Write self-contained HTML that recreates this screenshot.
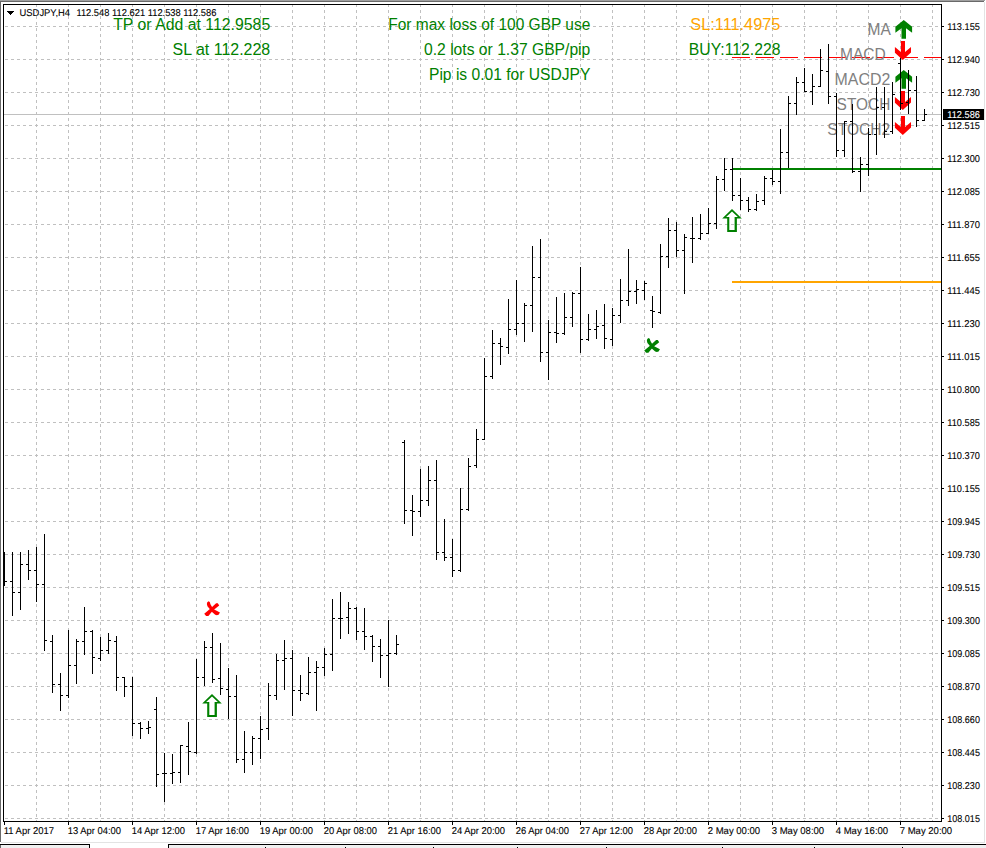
<!DOCTYPE html>
<html><head><meta charset="utf-8"><title>USDJPY,H4</title>
<style>
html,body{margin:0;padding:0;background:#fff;}
body{width:986px;height:848px;overflow:hidden;}
svg{display:block;}
text{font-family:"Liberation Sans",sans-serif;}
.s{font-size:9.9px;fill:#000;stroke:#000;stroke-width:0.1px;text-rendering:geometricPrecision;}
.b{font-size:16px;}
</style></head><body>
<svg width="986" height="848" viewBox="0 0 986 848">
<rect x="0" y="0" width="986" height="848" fill="#ffffff"/>
<g shape-rendering="crispEdges">
<rect x="0" y="0" width="985" height="1" fill="#a0a0a0"/>
<rect x="0" y="1" width="984" height="1" fill="#696969"/>
<rect x="0" y="1" width="1" height="841" fill="#696969"/>
<rect x="984" y="2" width="1" height="841" fill="#e3e3e3"/>
<rect x="1" y="842" width="984" height="1" fill="#e3e3e3"/>
<rect x="0" y="845" width="89" height="3" fill="#f0f0f0"/>
<rect x="169" y="845" width="817" height="3" fill="#f0f0f0"/>
<rect x="0" y="845" width="1" height="3" fill="#696969"/>
<rect x="0" y="844" width="90" height="1" fill="#000"/>
<rect x="168" y="844" width="818" height="1" fill="#000"/>
<rect x="89" y="844" width="1" height="4" fill="#000"/>
<rect x="168" y="844" width="1" height="4" fill="#000"/>
<rect x="265" y="847" width="1" height="1" fill="#000"/>
<rect x="345" y="847" width="1" height="1" fill="#000"/>
<rect x="433" y="847" width="1" height="1" fill="#000"/>
<rect x="517" y="847" width="1" height="1" fill="#000"/>
<rect x="606" y="847" width="1" height="1" fill="#000"/>
<rect x="722" y="847" width="1" height="1" fill="#000"/>
<rect x="814" y="847" width="1" height="1" fill="#000"/>
<rect x="902" y="847" width="1" height="1" fill="#000"/>
</g>
<g shape-rendering="crispEdges" stroke="#c0c0c0" stroke-width="1" stroke-dasharray="3 3" fill="none">
<path d="M36.5 4V821M68.5 4V821M100.5 4V821M132.5 4V821M164.5 4V821M196.5 4V821M228.5 4V821M260.5 4V821M292.5 4V821M324.5 4V821M356.5 4V821M388.5 4V821M420.5 4V821M452.5 4V821M484.5 4V821M516.5 4V821M548.5 4V821M580.5 4V821M612.5 4V821M644.5 4V821M676.5 4V821M708.5 4V821M740.5 4V821M772.5 4V821M804.5 4V821M836.5 4V821M868.5 4V821M900.5 4V821M932.5 4V821M5 26.5H941M5 59.5H941M5 92.5H941M5 125.5H941M5 158.5H941M5 191.5H941M5 224.5H941M5 257.5H941M5 290.5H941M5 323.5H941M5 356.5H941M5 389.5H941M5 422.5H941M5 455.5H941M5 488.5H941M5 521.5H941M5 554.5H941M5 587.5H941M5 620.5H941M5 653.5H941M5 686.5H941M5 719.5H941M5 752.5H941M5 785.5H941M5 818.5H941"/>
</g>
<rect x="4" y="114" width="937" height="1" fill="#c0c0c0" shape-rendering="crispEdges"/>
<g shape-rendering="crispEdges">
<rect x="732" y="168" width="209" height="2" fill="#008000"/>
<rect x="732" y="281" width="209" height="2" fill="#ffa500"/>
<path fill="#ff0000" d="M732 57h18v1h-18zM756 57h18v1h-18zM780 57h18v1h-18zM804 57h18v1h-18zM828 57h18v1h-18zM852 57h18v1h-18zM876 57h18v1h-18zM900 57h18v1h-18zM924 57h17v1h-17z"/>
</g>
<text x="270.2" y="30" class="b" fill="#008000" text-anchor="end" textLength="157" lengthAdjust="spacingAndGlyphs">TP or Add at 112.9585</text>
<text x="270.2" y="55" class="b" fill="#008000" text-anchor="end" textLength="97.6" lengthAdjust="spacingAndGlyphs">SL at 112.228</text>
<text x="590.3" y="30" class="b" fill="#008000" text-anchor="end" textLength="202" lengthAdjust="spacingAndGlyphs">For max loss of 100 GBP use</text>
<text x="590.3" y="55" class="b" fill="#008000" text-anchor="end" textLength="166.3" lengthAdjust="spacingAndGlyphs">0.2 lots or 1.37 GBP/pip</text>
<text x="590.3" y="80" class="b" fill="#008000" text-anchor="end" textLength="161.3" lengthAdjust="spacingAndGlyphs">Pip is 0.01 for USDJPY</text>
<text x="780.4" y="30" class="b" fill="#ffa500" text-anchor="end" textLength="90.1" lengthAdjust="spacingAndGlyphs">SL:111.4975</text>
<text x="780.4" y="55" class="b" fill="#008000" text-anchor="end" textLength="91.6" lengthAdjust="spacingAndGlyphs">BUY:112.228</text>
<text x="890.8" y="35" class="b" fill="#808080" text-anchor="end" textLength="23.3" lengthAdjust="spacingAndGlyphs">MA</text>
<text x="885.8" y="60" class="b" fill="#808080" text-anchor="end" textLength="45.8" lengthAdjust="spacingAndGlyphs">MACD</text>
<text x="890.3" y="85" class="b" fill="#808080" text-anchor="end" textLength="55.7" lengthAdjust="spacingAndGlyphs">MACD2</text>
<text x="890.3" y="110" class="b" fill="#808080" text-anchor="end" textLength="53.7" lengthAdjust="spacingAndGlyphs">STOCH</text>
<text x="890.3" y="135" class="b" fill="#808080" text-anchor="end" textLength="63" lengthAdjust="spacingAndGlyphs">STOCH2</text>
<polygon fill="#008000" points="903.75,19.90 912.10,26.80 912.10,32.80 906.00,28.20 906.00,38.80 901.50,38.80 901.50,28.20 895.40,32.80 895.40,26.80"/>
<polygon fill="#ff0000" points="900.90,40.90 905.00,40.90 905.00,51.90 911.00,47.00 911.00,52.50 902.80,59.90 894.90,52.70 894.90,47.00 900.90,52.00"/>
<polygon fill="#008000" points="903.75,69.90 912.10,76.80 912.10,82.80 906.00,78.20 906.00,88.80 901.50,88.80 901.50,78.20 895.40,82.80 895.40,76.80"/>
<polygon fill="#ff0000" points="900.90,90.90 905.00,90.90 905.00,101.90 911.00,97.00 911.00,102.50 902.80,109.90 894.90,102.70 894.90,97.00 900.90,102.00"/>
<polygon fill="#ff0000" points="900.90,115.90 905.00,115.90 905.00,126.90 911.00,122.00 911.00,127.50 902.80,134.90 894.90,127.70 894.90,122.00 900.90,127.00"/>
<path fill="#008000" fill-rule="evenodd" d="M732.00 208.90 L741.80 218.50 L736.90 218.50 L736.90 231.90 L727.20 231.90 L727.20 218.50 L722.20 218.50Z M732.00 211.40 L737.90 217.00 L734.60 217.00 L734.60 230.10 L729.30 230.10 L729.30 217.00 L726.10 217.00Z"/>
<path fill="#008000" fill-rule="evenodd" d="M212.00 693.90 L221.80 703.50 L216.90 703.50 L216.90 716.90 L207.20 716.90 L207.20 703.50 L202.20 703.50Z M212.00 696.40 L217.90 702.00 L214.60 702.00 L214.60 715.10 L209.30 715.10 L209.30 702.00 L206.10 702.00Z"/>
<polygon fill="#008000" points="648.57,338.04 649.77,338.72 650.45,341.06 651.89,343.51 654.23,346.34 659.96,349.36 658.57,351.43 656.87,351.89 655.17,351.43 652.34,348.98 649.32,345.21 647.43,342.94 646.87,340.68 647.25,338.98"/>
<polygon fill="#008000" points="656.11,340.11 657.81,340.11 659.21,342.19 653.85,346.53 650.83,349.74 648.38,352.75 646.11,352.75 644.23,350.49 649.32,346.34"/>
<polygon fill="#ff0000" points="208.57,601.29 209.77,601.97 210.45,604.31 211.89,606.76 214.23,609.59 219.96,612.61 218.57,614.68 216.87,615.14 215.17,614.68 212.34,612.23 209.32,608.46 207.43,606.19 206.87,603.93 207.25,602.23"/>
<polygon fill="#ff0000" points="216.11,603.36 217.81,603.36 219.21,605.44 213.85,609.78 210.83,612.99 208.38,616.00 206.11,616.00 204.23,613.74 209.32,609.59"/>
<path shape-rendering="crispEdges" fill="#000" d="M4 552h1v34h-1zM5 581h2v1h-2zM12 552h1v64h-1zM10 581h2v1h-2zM13 592h2v1h-2zM20 552h1v58h-1zM18 592h2v1h-2zM21 564h2v1h-2zM28 550h1v30h-1zM26 564h2v1h-2zM29 570h2v1h-2zM36 547h1v55h-1zM34 570h2v1h-2zM37 584h2v1h-2zM44 534h1v117h-1zM42 584h2v1h-2zM45 640h2v1h-2zM52 635h1v58h-1zM50 641h2v1h-2zM53 684h2v1h-2zM60 673h1v38h-1zM58 684h2v1h-2zM61 695h2v1h-2zM68 630h1v68h-1zM66 695h2v1h-2zM69 665h2v1h-2zM76 639h1v45h-1zM74 665h2v1h-2zM77 641h2v1h-2zM84 607h1v48h-1zM82 641h2v1h-2zM85 631h2v1h-2zM92 630h1v44h-1zM90 631h2v1h-2zM93 657h2v1h-2zM100 637h1v24h-1zM98 658h2v1h-2zM101 650h2v1h-2zM108 633h1v21h-1zM106 650h2v1h-2zM109 640h2v1h-2zM116 636h1v55h-1zM114 641h2v1h-2zM117 677h2v1h-2zM124 677h1v20h-1zM122 677h2v1h-2zM125 686h2v1h-2zM132 677h1v59h-1zM130 686h2v1h-2zM133 723h2v1h-2zM140 722h1v17h-1zM138 723h2v1h-2zM141 728h2v1h-2zM148 721h1v13h-1zM146 728h2v1h-2zM149 727h2v1h-2zM156 697h1v90h-1zM154 709h2v1h-2zM157 774h2v1h-2zM164 753h1v49h-1zM162 773h2v1h-2zM165 773h2v1h-2zM172 754h1v30h-1zM170 773h2v1h-2zM173 772h2v1h-2zM180 745h1v38h-1zM178 772h2v1h-2zM181 745h2v1h-2zM188 722h1v53h-1zM186 746h2v1h-2zM189 751h2v1h-2zM196 659h1v95h-1zM194 752h2v1h-2zM197 677h2v1h-2zM204 641h1v45h-1zM202 677h2v1h-2zM205 647h2v1h-2zM212 633h1v50h-1zM210 647h2v1h-2zM213 679h2v1h-2zM220 643h1v52h-1zM218 678h2v1h-2zM221 688h2v1h-2zM228 668h1v51h-1zM226 689h2v1h-2zM229 696h2v1h-2zM236 675h1v88h-1zM234 696h2v1h-2zM237 759h2v1h-2zM244 731h1v42h-1zM242 759h2v1h-2zM245 752h2v1h-2zM252 736h1v29h-1zM250 752h2v1h-2zM253 738h2v1h-2zM260 716h1v43h-1zM258 738h2v1h-2zM261 729h2v1h-2zM268 683h1v57h-1zM266 728h2v1h-2zM269 695h2v1h-2zM276 654h1v46h-1zM274 695h2v1h-2zM277 660h2v1h-2zM284 640h1v50h-1zM282 660h2v1h-2zM285 658h2v1h-2zM292 650h1v66h-1zM290 658h2v1h-2zM293 690h2v1h-2zM300 675h1v26h-1zM298 690h2v1h-2zM301 693h2v1h-2zM308 657h1v38h-1zM306 693h2v1h-2zM309 672h2v1h-2zM316 661h1v50h-1zM314 672h2v1h-2zM317 667h2v1h-2zM324 648h1v28h-1zM322 667h2v1h-2zM325 654h2v1h-2zM332 599h1v72h-1zM330 654h2v1h-2zM333 618h2v1h-2zM340 592h1v47h-1zM338 618h2v1h-2zM341 618h2v1h-2zM348 602h1v32h-1zM346 617h2v1h-2zM349 608h2v1h-2zM356 607h1v33h-1zM354 608h2v1h-2zM357 631h2v1h-2zM364 608h1v42h-1zM362 631h2v1h-2zM365 636h2v1h-2zM372 635h1v27h-1zM370 636h2v1h-2zM373 646h2v1h-2zM380 639h1v39h-1zM378 646h2v1h-2zM381 655h2v1h-2zM388 620h1v67h-1zM386 655h2v1h-2zM389 653h2v1h-2zM396 635h1v20h-1zM394 653h2v1h-2zM397 644h2v1h-2zM404 440h1v84h-1zM402 442h2v1h-2zM405 510h2v1h-2zM412 495h1v41h-1zM410 510h2v1h-2zM413 511h2v1h-2zM420 469h1v48h-1zM418 511h2v1h-2zM421 500h2v1h-2zM428 466h1v40h-1zM426 500h2v1h-2zM429 480h2v1h-2zM436 460h1v100h-1zM434 480h2v1h-2zM437 552h2v1h-2zM444 519h1v42h-1zM442 552h2v1h-2zM445 557h2v1h-2zM452 539h1v38h-1zM450 557h2v1h-2zM453 570h2v1h-2zM460 488h1v84h-1zM458 570h2v1h-2zM461 509h2v1h-2zM468 458h1v53h-1zM466 509h2v1h-2zM469 466h2v1h-2zM476 429h1v39h-1zM474 465h2v1h-2zM477 439h2v1h-2zM484 358h1v82h-1zM482 439h2v1h-2zM485 376h2v1h-2zM492 330h1v49h-1zM490 376h2v1h-2zM493 343h2v1h-2zM500 338h1v27h-1zM498 343h2v1h-2zM501 346h2v1h-2zM508 299h1v55h-1zM506 347h2v1h-2zM509 329h2v1h-2zM516 280h1v55h-1zM514 329h2v1h-2zM517 323h2v1h-2zM524 303h1v39h-1zM522 323h2v1h-2zM525 305h2v1h-2zM532 246h1v86h-1zM530 305h2v1h-2zM533 277h2v1h-2zM540 239h1v123h-1zM538 277h2v1h-2zM541 352h2v1h-2zM548 320h1v60h-1zM546 352h2v1h-2zM549 332h2v1h-2zM556 297h1v46h-1zM554 332h2v1h-2zM557 333h2v1h-2zM564 293h1v42h-1zM562 333h2v1h-2zM565 317h2v1h-2zM572 292h1v35h-1zM570 317h2v1h-2zM573 293h2v1h-2zM580 267h1v86h-1zM578 293h2v1h-2zM581 339h2v1h-2zM588 314h1v27h-1zM586 339h2v1h-2zM589 329h2v1h-2zM596 310h1v29h-1zM594 329h2v1h-2zM597 326h2v1h-2zM604 304h1v45h-1zM602 325h2v1h-2zM605 338h2v1h-2zM612 308h1v38h-1zM610 339h2v1h-2zM613 315h2v1h-2zM620 279h1v44h-1zM618 315h2v1h-2zM621 300h2v1h-2zM628 249h1v57h-1zM626 300h2v1h-2zM629 291h2v1h-2zM636 280h1v24h-1zM634 291h2v1h-2zM637 289h2v1h-2zM644 281h1v19h-1zM642 290h2v1h-2zM645 283h2v1h-2zM652 296h1v32h-1zM650 310h2v1h-2zM653 311h2v1h-2zM660 244h1v70h-1zM658 312h2v1h-2zM661 256h2v1h-2zM668 218h1v50h-1zM666 256h2v1h-2zM669 230h2v1h-2zM676 222h1v35h-1zM674 230h2v1h-2zM677 250h2v1h-2zM684 234h1v60h-1zM682 250h2v1h-2zM685 237h2v1h-2zM692 217h1v46h-1zM690 238h2v1h-2zM693 238h2v1h-2zM700 214h1v26h-1zM698 238h2v1h-2zM701 233h2v1h-2zM708 208h1v26h-1zM706 233h2v1h-2zM709 223h2v1h-2zM716 176h1v53h-1zM714 223h2v1h-2zM717 179h2v1h-2zM724 158h1v33h-1zM722 179h2v1h-2zM725 169h2v1h-2zM732 158h1v43h-1zM730 169h2v1h-2zM733 195h2v1h-2zM740 178h1v32h-1zM738 195h2v1h-2zM741 200h2v1h-2zM748 197h1v15h-1zM746 200h2v1h-2zM749 209h2v1h-2zM756 194h1v17h-1zM754 209h2v1h-2zM757 201h2v1h-2zM764 176h1v29h-1zM762 200h2v1h-2zM765 178h2v1h-2zM772 170h1v15h-1zM770 178h2v1h-2zM773 181h2v1h-2zM780 129h1v65h-1zM778 181h2v1h-2zM781 152h2v1h-2zM788 96h1v72h-1zM786 152h2v1h-2zM789 103h2v1h-2zM796 77h1v38h-1zM794 103h2v1h-2zM797 82h2v1h-2zM804 68h1v24h-1zM802 82h2v1h-2zM805 91h2v1h-2zM812 74h1v31h-1zM810 91h2v1h-2zM813 86h2v1h-2zM820 49h1v38h-1zM818 86h2v1h-2zM821 70h2v1h-2zM828 44h1v60h-1zM826 71h2v1h-2zM829 96h2v1h-2zM836 93h1v64h-1zM834 96h2v1h-2zM837 150h2v1h-2zM844 121h1v36h-1zM842 150h2v1h-2zM845 121h2v1h-2zM852 104h1v69h-1zM850 121h2v1h-2zM853 171h2v1h-2zM860 157h1v35h-1zM858 171h2v1h-2zM861 164h2v1h-2zM868 128h1v48h-1zM866 164h2v1h-2zM869 134h2v1h-2zM876 87h1v68h-1zM874 134h2v1h-2zM877 107h2v1h-2zM884 87h1v51h-1zM882 107h2v1h-2zM885 131h2v1h-2zM892 82h1v52h-1zM890 131h2v1h-2zM893 94h2v1h-2zM900 58h1v52h-1zM898 63h2v1h-2zM901 103h2v1h-2zM908 70h1v44h-1zM906 102h2v1h-2zM909 90h2v1h-2zM916 76h1v51h-1zM914 90h2v1h-2zM917 120h2v1h-2zM924 109h1v12h-1zM922 120h2v1h-2zM925 114h2v1h-2z"/>
<g shape-rendering="crispEdges" fill="#000">
<rect x="3" y="4" width="939" height="1"/>
<rect x="3" y="821" width="939" height="1"/>
<rect x="3" y="4" width="1" height="818"/>
<rect x="941" y="4" width="1" height="818"/>
<path d="M942 26h2v1h-2zM942 59h2v1h-2zM942 92h2v1h-2zM942 125h2v1h-2zM942 158h2v1h-2zM942 191h2v1h-2zM942 224h2v1h-2zM942 257h2v1h-2zM942 290h2v1h-2zM942 323h2v1h-2zM942 356h2v1h-2zM942 389h2v1h-2zM942 422h2v1h-2zM942 455h2v1h-2zM942 488h2v1h-2zM942 521h2v1h-2zM942 554h2v1h-2zM942 587h2v1h-2zM942 620h2v1h-2zM942 653h2v1h-2zM942 686h2v1h-2zM942 719h2v1h-2zM942 752h2v1h-2zM942 785h2v1h-2zM942 818h2v1h-2zM4 822h1v3h-1zM68 822h1v3h-1zM132 822h1v3h-1zM196 822h1v3h-1zM260 822h1v3h-1zM324 822h1v3h-1zM388 822h1v3h-1zM452 822h1v3h-1zM516 822h1v3h-1zM580 822h1v3h-1zM644 822h1v3h-1zM708 822h1v3h-1zM772 822h1v3h-1zM836 822h1v3h-1zM900 822h1v3h-1z"/>
<path d="M7 11h7v1h-7zM8 12h5v1h-5zM9 13h3v1h-3zM10 14h1v1h-1z"/>
<rect x="943" y="109" width="41" height="11"/>
</g>
<text x="947.3" y="30" class="s" textLength="32.6" lengthAdjust="spacingAndGlyphs">113.155</text>
<text x="947.3" y="63" class="s" textLength="32.6" lengthAdjust="spacingAndGlyphs">112.940</text>
<text x="947.3" y="96" class="s" textLength="32.6" lengthAdjust="spacingAndGlyphs">112.730</text>
<text x="947.3" y="129" class="s" textLength="32.6" lengthAdjust="spacingAndGlyphs">112.515</text>
<text x="947.3" y="162" class="s" textLength="32.6" lengthAdjust="spacingAndGlyphs">112.300</text>
<text x="947.3" y="195" class="s" textLength="32.6" lengthAdjust="spacingAndGlyphs">112.085</text>
<text x="947.3" y="228" class="s" textLength="32.6" lengthAdjust="spacingAndGlyphs">111.870</text>
<text x="947.3" y="261" class="s" textLength="32.6" lengthAdjust="spacingAndGlyphs">111.655</text>
<text x="947.3" y="294" class="s" textLength="32.6" lengthAdjust="spacingAndGlyphs">111.445</text>
<text x="947.3" y="327" class="s" textLength="32.6" lengthAdjust="spacingAndGlyphs">111.230</text>
<text x="947.3" y="360" class="s" textLength="32.6" lengthAdjust="spacingAndGlyphs">111.015</text>
<text x="947.3" y="393" class="s" textLength="32.6" lengthAdjust="spacingAndGlyphs">110.800</text>
<text x="947.3" y="426" class="s" textLength="32.6" lengthAdjust="spacingAndGlyphs">110.585</text>
<text x="947.3" y="459" class="s" textLength="32.6" lengthAdjust="spacingAndGlyphs">110.370</text>
<text x="947.3" y="492" class="s" textLength="32.6" lengthAdjust="spacingAndGlyphs">110.155</text>
<text x="947.3" y="525" class="s" textLength="32.6" lengthAdjust="spacingAndGlyphs">109.945</text>
<text x="947.3" y="558" class="s" textLength="32.6" lengthAdjust="spacingAndGlyphs">109.730</text>
<text x="947.3" y="591" class="s" textLength="32.6" lengthAdjust="spacingAndGlyphs">109.515</text>
<text x="947.3" y="624" class="s" textLength="32.6" lengthAdjust="spacingAndGlyphs">109.300</text>
<text x="947.3" y="657" class="s" textLength="32.6" lengthAdjust="spacingAndGlyphs">109.085</text>
<text x="947.3" y="690" class="s" textLength="32.6" lengthAdjust="spacingAndGlyphs">108.870</text>
<text x="947.3" y="723" class="s" textLength="32.6" lengthAdjust="spacingAndGlyphs">108.660</text>
<text x="947.3" y="756" class="s" textLength="32.6" lengthAdjust="spacingAndGlyphs">108.445</text>
<text x="947.3" y="789" class="s" textLength="32.6" lengthAdjust="spacingAndGlyphs">108.230</text>
<text x="947.3" y="822" class="s" textLength="32.6" lengthAdjust="spacingAndGlyphs">108.015</text>
<text x="947.3" y="118" class="s" style="fill:#fff;stroke:#fff" textLength="32.6" lengthAdjust="spacingAndGlyphs">112.586</text>
<text x="3.7" y="834" class="s" textLength="50.3" lengthAdjust="spacingAndGlyphs">11 Apr 2017</text>
<text x="67.7" y="834" class="s" textLength="53.3" lengthAdjust="spacingAndGlyphs">13 Apr 04:00</text>
<text x="131.7" y="834" class="s" textLength="53.3" lengthAdjust="spacingAndGlyphs">14 Apr 12:00</text>
<text x="195.7" y="834" class="s" textLength="53.3" lengthAdjust="spacingAndGlyphs">17 Apr 16:00</text>
<text x="259.7" y="834" class="s" textLength="53.3" lengthAdjust="spacingAndGlyphs">19 Apr 00:00</text>
<text x="323.7" y="834" class="s" textLength="53.3" lengthAdjust="spacingAndGlyphs">20 Apr 08:00</text>
<text x="387.7" y="834" class="s" textLength="53.3" lengthAdjust="spacingAndGlyphs">21 Apr 16:00</text>
<text x="451.7" y="834" class="s" textLength="53.3" lengthAdjust="spacingAndGlyphs">24 Apr 20:00</text>
<text x="515.7" y="834" class="s" textLength="53.3" lengthAdjust="spacingAndGlyphs">26 Apr 04:00</text>
<text x="579.7" y="834" class="s" textLength="53.3" lengthAdjust="spacingAndGlyphs">27 Apr 12:00</text>
<text x="643.7" y="834" class="s" textLength="53.3" lengthAdjust="spacingAndGlyphs">28 Apr 20:00</text>
<text x="707.7" y="834" class="s" textLength="52.5" lengthAdjust="spacingAndGlyphs">2 May 00:00</text>
<text x="771.7" y="834" class="s" textLength="52.5" lengthAdjust="spacingAndGlyphs">3 May 08:00</text>
<text x="835.7" y="834" class="s" textLength="52.5" lengthAdjust="spacingAndGlyphs">4 May 16:00</text>
<text x="899.7" y="834" class="s" textLength="52.5" lengthAdjust="spacingAndGlyphs">7 May 20:00</text>
<text x="19.6" y="16" class="s" textLength="50.4" lengthAdjust="spacingAndGlyphs">USDJPY,H4</text>
<text x="76.4" y="16" class="s" textLength="140" lengthAdjust="spacingAndGlyphs">112.548 112.621 112.538 112.586</text>
</svg>
</body></html>
